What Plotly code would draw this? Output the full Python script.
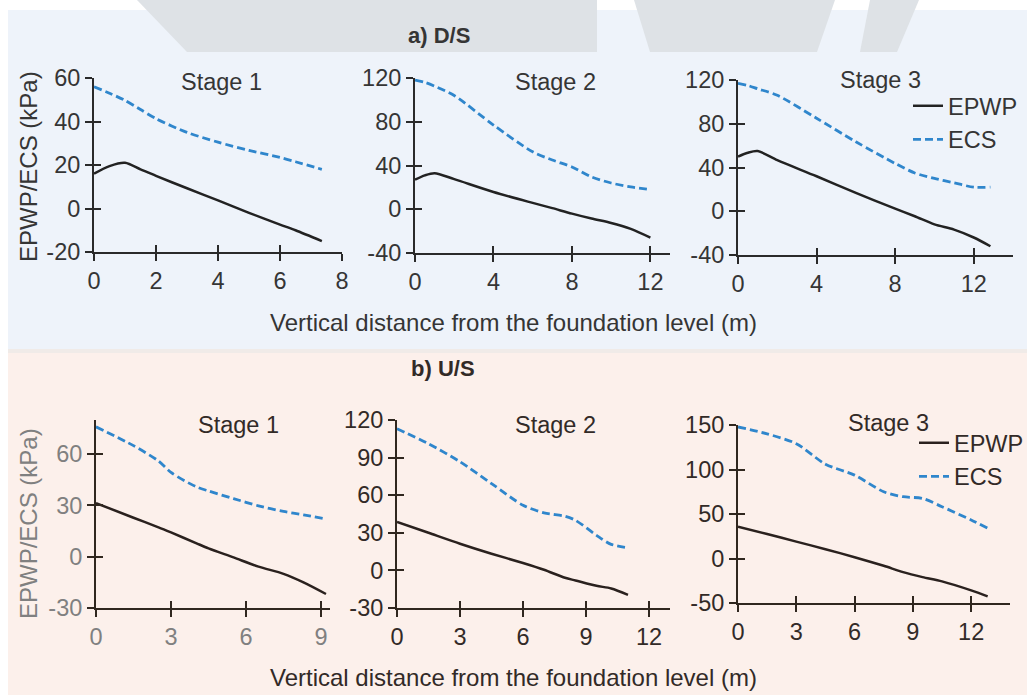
import plotly.graph_objects as go

W, H = 1027, 695

# ---------------- data ----------------
# a) D/S
x_ds1 = [0, 0.5, 1, 1.5, 2, 3, 4, 5, 6, 6.5, 7.35]
epwp_ds1 = [16, 19.5, 21, 18, 15, 9.3, 3.7, -2, -7.4, -10, -15]
ecs_ds1 = [56, 53, 49.7, 45.5, 41.3, 35, 30.5, 26.7, 23.5, 21.5, 18]

x_ds2 = [0, 0.5, 1, 2, 4, 6, 7, 8, 9, 10, 11, 12]
epwp_ds2 = [27, 31, 33, 27.5, 15.8, 5.8, 1, -4, -8.5, -12.5, -18, -26]
ecs_ds2 = [118, 116, 112.5, 104, 77, 52.5, 45, 38.7, 29.6, 24, 20.4, 18]

x_ds3 = [0, 0.5, 1, 2, 4, 6, 8, 9, 10, 11, 12, 12.85]
epwp_ds3 = [50, 53.5, 55, 46.7, 32, 16.8, 2.4, -4.6, -12, -16.8, -24, -32]
ecs_ds3 = [117, 115, 112, 106, 85, 63.5, 43.7, 35, 30, 26, 22, 22]

# b) U/S
x_us1 = [0, 1.5, 2.5, 3, 4, 4.5, 5.5, 6.5, 7.5, 8.3, 9.2]
epwp_us1 = [31.4, 22.8, 17.2, 14.2, 8, 4.9, -0.4, -5.8, -10, -15, -21.8]
ecs_us1 = [76, 65, 56, 49.3, 41, 38.5, 34, 29.8, 26.5, 24.5, 22]

x_us2 = [0, 1.5, 3, 4.5, 6, 7, 8, 8.5, 9.5, 10.2, 11]
epwp_us2 = [38.7, 30, 21.3, 13.3, 5.9, 0.5, -5.9, -8, -12.3, -14.4, -19.5]
ecs_us2 = [113, 101, 86.7, 69.3, 52, 45.9, 43.2, 40, 28, 20.8, 18.1]

x_us3 = [0, 1.5, 3, 4.5, 6, 7.5, 8.5, 9.5, 10.5, 12, 12.85]
epwp_us3 = [35.8, 27.5, 19, 10.4, 1.5, -8.2, -15.3, -20.9, -25.7, -35.8, -42.5]
ecs_us3 = [147.8, 140, 129, 106, 93.7, 75, 69.4, 67.5, 58.2, 43.3, 34]

stage_labels = ["Stage 1", "Stage 2", "Stage 3"]
series_names = ["EPWP", "ECS"]
section_titles = ["<b>a) D/S</b>", "<b>b) U/S</b>"]
x_title = "Vertical distance from the foundation level (m)"
y_title = "EPWP/ECS (kPa)"

x_ranges = [[0, 8], [0, 13], [0, 14], [0, 9.36], [0, 13], [0, 14]]
y_ranges = [[-20, 60], [-40, 120], [-40, 120], [-30, 80], [-30, 120], [-50, 150]]
x_ticks = [[0, 2, 4, 6, 8], [0, 4, 8, 12], [0, 4, 8, 12],
           [0, 3, 6, 9], [0, 3, 6, 9, 12], [0, 3, 6, 9, 12]]
y_ticks = [[-20, 0, 20, 40, 60], [-40, 0, 40, 80, 120], [-40, 0, 40, 80, 120],
           [-30, 0, 30, 60], [-30, 0, 30, 60, 90, 120], [-50, 0, 50, 100, 150]]

# ---------------- layout geometry (pixels) ----------------
def X(px):
    return px / W

def Y(py):
    return 1 - py / H

x_dom_px = [(94, 342), (415, 670), (738, 1013), (96, 330), (397, 670), (738, 1010)]
y_dom_px = [(252, 78), (253, 78), (255, 80), (608, 420), (608, 420), (603, 425)]

FONT = "Liberation Sans, Arial, sans-serif"
FS = 23.5
TOP_TXT = "#353535"
BOT_TXT = "#322a27"
GREY_TXT = "#808080"
TOP_AX = "#2a2a2a"
BOT_AX = "#30271f"
BLUE = "#2F86CC"

data_sets = [
    (x_ds1, epwp_ds1, ecs_ds1), (x_ds2, epwp_ds2, ecs_ds2), (x_ds3, epwp_ds3, ecs_ds3),
    (x_us1, epwp_us1, ecs_us1), (x_us2, epwp_us2, ecs_us2), (x_us3, epwp_us3, ecs_us3),
]

def lab(v):
    return str(v)  # plain hyphen-minus like the original

fig = go.Figure()
layout = dict()

for i in range(6):
    k = i + 1
    ko = k + 6
    top = i < 3
    axc = TOP_AX if top else BOT_AX
    tc = TOP_TXT if top else (GREY_TXT if i == 3 else BOT_TXT)
    xs, ep, ec = data_sets[i]
    line_col = "#222222" if top else "#2a211e"
    leg = "legend" if i == 2 else ("legend2" if i == 5 else None)
    fig.add_trace(go.Scatter(
        x=xs, y=ep, mode="lines", name=series_names[0],
        line=dict(color=line_col, width=2.5, shape="spline", smoothing=0.8),
        xaxis=f"x{k}", yaxis=f"y{k}", showlegend=leg is not None,
        legend=leg if leg else "legend", hoverinfo="skip"))
    fig.add_trace(go.Scatter(
        x=xs, y=ec, mode="lines", name=series_names[1],
        line=dict(color=BLUE, width=2.8, dash="8px,4px", shape="spline", smoothing=0.8),
        xaxis=f"x{k}", yaxis=f"y{k}", showlegend=leg is not None,
        legend=leg if leg else "legend", hoverinfo="skip"))
    # empty traces that carry the overlay axes (inner half of the cross tick marks)
    fig.add_trace(go.Scatter(x=[], y=[], xaxis=f"x{ko}", yaxis=f"y{k}",
                             showlegend=False, hoverinfo="skip"))
    fig.add_trace(go.Scatter(x=[], y=[], xaxis=f"x{k}", yaxis=f"y{ko}",
                             showlegend=False, hoverinfo="skip"))

    common = dict(showgrid=False, zeroline=False, fixedrange=True, automargin=False)
    layout[f"xaxis{k}"] = dict(
        domain=[X(x_dom_px[i][0]), X(x_dom_px[i][1])], range=x_ranges[i],
        anchor=f"y{k}", tickvals=x_ticks[i], ticktext=[lab(v) for v in x_ticks[i]],
        ticks="outside", ticklen=7, tickwidth=2,
        tickcolor=axc, showline=True, linecolor=axc, linewidth=2,
        tickfont=dict(family=FONT, size=FS, color=tc), **common)
    layout[f"yaxis{k}"] = dict(
        domain=[Y(y_dom_px[i][0]), Y(y_dom_px[i][1])], range=y_ranges[i],
        anchor=f"x{k}", tickvals=y_ticks[i], ticktext=[lab(v) for v in y_ticks[i]],
        ticks="outside", ticklen=7, tickwidth=2,
        tickcolor=axc, showline=True, linecolor=axc, linewidth=2,
        tickfont=dict(family=FONT, size=FS, color=tc), **common)
    layout[f"xaxis{ko}"] = dict(
        overlaying=f"x{k}", anchor=f"y{k}", range=x_ranges[i], tickvals=x_ticks[i],
        ticks="inside", ticklen=7, tickwidth=2, tickcolor=axc, showline=False,
        showticklabels=False, **common)
    layout[f"yaxis{ko}"] = dict(
        overlaying=f"y{k}", anchor=f"x{k}", range=y_ranges[i], tickvals=y_ticks[i],
        ticks="inside", ticklen=7, tickwidth=2, tickcolor=axc, showline=False,
        showticklabels=False, **common)

# ---------------- background shapes ----------------
shapes = [
    dict(type="rect", xref="paper", yref="paper", x0=X(8), x1=1, y0=Y(349), y1=Y(10),
         fillcolor="#EEF3FA", line_width=0, layer="below"),
    dict(type="rect", xref="paper", yref="paper", x0=X(8), x1=1, y0=Y(353), y1=Y(349),
         fillcolor="#F0EBE8", line_width=0, layer="below"),
    dict(type="rect", xref="paper", yref="paper", x0=X(8), x1=1, y0=0, y1=Y(353),
         fillcolor="#FCF0EB", line_width=0, layer="below"),
]
wm = "#DEE2E6"
for poly in [[(137, 0), (597, 0), (597, 52), (187, 52)],
             [(634, 0), (835, 0), (817, 52), (650, 52)],
             [(870, 0), (919, 0), (897, 52), (860, 52)]]:
    path = "M " + " L ".join(f"{X(px):.5f},{Y(py):.5f}" for px, py in poly) + " Z"
    shapes.append(dict(type="path", xref="paper", yref="paper", path=path,
                       fillcolor=wm, line_width=0, layer="below"))

# ---------------- annotations ----------------
ann = []
stage_pos = [(221, 82), (555, 82), (880, 80), (238, 425), (555, 425), (888, 423)]
for i, (px, py) in enumerate(stage_pos):
    ann.append(dict(text=stage_labels[i % 3], x=X(px), y=Y(py), xref="paper", yref="paper",
                    showarrow=False, xanchor="center", yanchor="middle",
                    font=dict(family=FONT, size=FS, color=TOP_TXT if i < 3 else BOT_TXT)))
ann.append(dict(text=section_titles[0], x=X(439), y=Y(35), xref="paper", yref="paper",
                showarrow=False, xanchor="center", yanchor="middle",
                font=dict(family=FONT, size=FS - 1.5, color=TOP_TXT)))
ann.append(dict(text=section_titles[1], x=X(443), y=Y(368), xref="paper", yref="paper",
                showarrow=False, xanchor="center", yanchor="middle",
                font=dict(family=FONT, size=FS - 1.5, color=BOT_TXT)))
for py, col in [(323, TOP_TXT), (677, BOT_TXT)]:
    ann.append(dict(text=x_title, x=X(513), y=Y(py), xref="paper", yref="paper",
                    showarrow=False, xanchor="center", yanchor="middle",
                    font=dict(family=FONT, size=FS + 0.5, color=col)))
for py, col in [(167, TOP_TXT), (524, GREY_TXT)]:
    ann.append(dict(text=y_title, x=X(28), y=Y(py), xref="paper", yref="paper",
                    showarrow=False, xanchor="center", yanchor="middle", textangle=-90,
                    font=dict(family=FONT, size=FS + 0.5, color=col)))

legend_common = dict(bgcolor="rgba(0,0,0,0)", borderwidth=0, xanchor="left", yanchor="top",
                     tracegroupgap=0, itemwidth=30)
fig.update_layout(
    width=W, height=H, margin=dict(l=0, r=0, t=0, b=0, autoexpand=False),
    paper_bgcolor="white", plot_bgcolor="rgba(0,0,0,0)",
    shapes=shapes, annotations=ann, hovermode=False,
    legend=dict(x=X(908), y=Y(84), font=dict(family=FONT, size=FS, color=TOP_TXT),
                **legend_common),
    legend2=dict(x=X(914), y=Y(421), font=dict(family=FONT, size=FS, color=BOT_TXT),
                 **legend_common),
    **layout,
)

fig.write_html("out.html", config={"displayModeBar": False})
